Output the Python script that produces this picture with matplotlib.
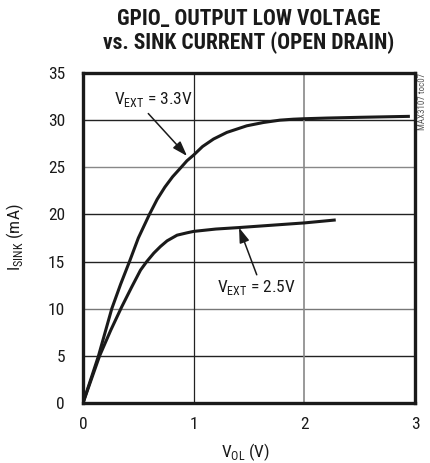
import matplotlib
matplotlib.use("Agg")
import matplotlib.pyplot as plt
from matplotlib import font_manager as fm

# ---- data ----
v_33 = [0, 0.07, 0.14, 0.20, 0.26, 0.34, 0.42, 0.50, 0.60, 0.67, 0.74, 0.81, 0.887, 0.94,
        1.0, 1.08, 1.18, 1.30, 1.48, 1.63, 1.78, 1.90, 2.0, 2.2, 2.5, 2.94]
i_33 = [0, 2.5, 5, 7.5, 10, 12.6, 15, 17.5, 20, 21.6, 22.9, 24.0, 25, 25.7,
        26.3, 27.2, 28.0, 28.7, 29.4, 29.75, 30.0, 30.1, 30.15, 30.22, 30.3, 30.4]
v_25 = [0, 0.15, 0.25, 0.35, 0.44, 0.52, 0.576, 0.64, 0.70, 0.76, 0.85, 0.94,
        1.0, 1.2, 1.4, 1.7, 2.0, 2.27]
i_25 = [0, 5, 7.7, 10.2, 12.3, 14.1, 15, 15.9, 16.6, 17.2, 17.8, 18.05,
        18.2, 18.45, 18.6, 18.85, 19.1, 19.4]
x_ticks = [0, 1, 2, 3]
y_ticks = [0, 5, 10, 15, 20, 25, 30, 35]
title = "GPIO_ OUTPUT LOW VOLTAGE\nvs. SINK CURRENT (OPEN DRAIN)"

def pick(names):
    for n in names:
        try:
            fm.findfont(fm.FontProperties(family=n), fallback_to_default=False)
            return n
        except Exception:
            pass
    return "DejaVu Sans"

fam = pick(["Liberation Sans Narrow", "DejaVu Sans Condensed", "Roboto Condensed", "Liberation Sans"])
plt.rcParams['font.family'] = [fam, 'DejaVu Sans']
plt.rcParams['mathtext.fontset'] = 'custom'
plt.rcParams['mathtext.rm'] = fam

fig = plt.figure(figsize=(4.30, 4.63), dpi=100)
ax = fig.add_axes([83/430, 60/463, 332/430, 330/463])

ax.set_xlim(0, 3)
ax.set_ylim(0, 35)
ax.set_xticks(x_ticks)
ax.set_yticks(y_ticks)
ax.tick_params(length=0, labelsize=12.5, colors='#1a1a1a')
ax.tick_params(axis='y', pad=13)
ax.tick_params(axis='x', pad=10)

# grid
grid_colors_y = {5: '#222222', 10: '#777777', 15: '#222222', 20: '#222222', 25: '#888888', 30: '#222222'}
for yv, c in grid_colors_y.items():
    ax.axhline(yv, color=c, lw=1.0, zorder=1)
ax.axvline(1, color='#222222', lw=0.9, zorder=1)
ax.axvline(2, color='#888888', lw=1.2, zorder=1)

for s in ax.spines.values():
    s.set_linewidth(2.4)
    s.set_color('#1a1a1a')

ax.plot(v_33, i_33, color='#1a1a1a', lw=2.2, zorder=3, solid_joinstyle='round')
ax.plot(v_25, i_25, color='#1a1a1a', lw=2.2, zorder=3, solid_joinstyle='round')

arrow = dict(arrowstyle='-|>,head_length=0.9,head_width=0.3', color='#1a1a1a', lw=1.1, shrinkA=0, shrinkB=0)
ax.annotate('', xy=(0.94, 26.2), xytext=(0.59, 30.7), arrowprops=arrow, zorder=4)
ax.annotate('', xy=(1.41, 18.6), xytext=(1.57, 13.6), arrowprops=arrow, zorder=4)
ax.text(0.64, 32.2, r'V$_{\mathregular{EXT}}$ = 3.3V', ha='center', va='center', fontsize=12.5, color='#1a1a1a')
ax.text(1.565, 12.2, r'V$_{\mathregular{EXT}}$ = 2.5V', ha='center', va='center', fontsize=12.5, color='#1a1a1a')

ax.set_xlabel(r'V$_{\mathregular{OL}}$ (V)', fontsize=12.5, color='#1a1a1a', va='center')
ax.xaxis.set_label_coords(0.49, -0.148)
ax.set_ylabel(r'I$_{\mathregular{SINK}}$ (mA)', fontsize=12.5, color='#1a1a1a', va='center')
ax.yaxis.set_label_coords(-0.205, 0.503)

ax.text(1.009, 1.0, 'MAX3107 toc07', transform=ax.transAxes, rotation=90,
        ha='left', va='top', fontsize=6.5, color='#555555')

fig.text(249/430, 1 - 31/463, title, ha='center', va='center', fontsize=15.5,
         fontweight='bold', linespacing=1.1, color='#1a1a1a')

fig.savefig('out.png', dpi=100)
